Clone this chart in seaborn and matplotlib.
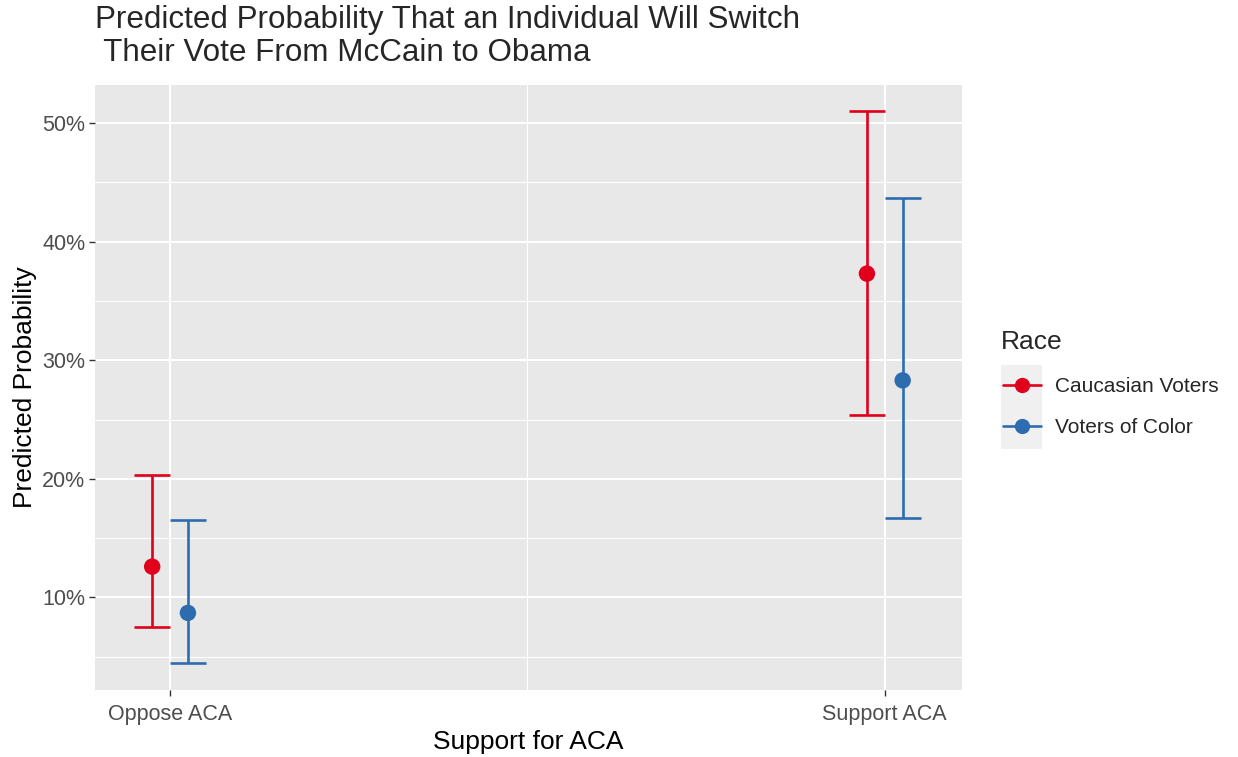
import matplotlib
matplotlib.use("Agg")
import matplotlib.pyplot as plt
from matplotlib.lines import Line2D
from matplotlib.patches import Rectangle
from matplotlib.ticker import FuncFormatter, MultipleLocator
import numpy as np
import pandas as pd
import seaborn as sns

# Predicted probabilities (percent) with confidence bounds
aca_levels = ["Oppose ACA", "Support ACA"]
race_groups = ["Caucasian Voters", "Voters of Color"]
caucasian_prob = [12.6, 37.3]
caucasian_low = [7.5, 25.4]
caucasian_high = [20.3, 51.0]
color_prob = [8.7, 28.3]
color_low = [4.5, 16.7]
color_high = [16.5, 43.7]

df = pd.DataFrame({
    "support": [0, 1, 0, 1],
    "race": [race_groups[0]] * 2 + [race_groups[1]] * 2,
    "prob": caucasian_prob + color_prob,
    "low": caucasian_low + color_low,
    "high": caucasian_high + color_high,
})

palette = {race_groups[0]: "#E0001B", race_groups[1]: "#2E6CB0"}
dodge = {race_groups[0]: -0.025, race_groups[1]: 0.025}
df["xpos"] = df["support"] + df["race"].map(dodge)

sns.set_theme(style="darkgrid", rc={
    "axes.facecolor": "#E8E8E8",
    "grid.color": "white",
    "axes.edgecolor": "#E8E8E8",
})
plt.rcParams["font.family"] = ["Liberation Sans", "DejaVu Sans"]

fig = plt.figure(figsize=(12.38, 7.57), dpi=100)
ax = fig.add_axes([95 / 1238, 1 - 690 / 757, (962 - 95) / 1238, (690 - 85) / 757])

for race in race_groups:
    sub = df[df["race"] == race]
    ax.errorbar(sub["xpos"], sub["prob"],
                yerr=[sub["prob"] - sub["low"], sub["high"] - sub["prob"]],
                fmt="none", ecolor=palette[race], elinewidth=1.9,
                capsize=13, capthick=1.9, zorder=3)

sns.scatterplot(data=df, x="xpos", y="prob", hue="race", palette=palette,
                s=140, edgecolor="none", legend=False, ax=ax, zorder=4)

ax.set_xlim(-0.105, 1.108)
ax.set_ylim(2.2, 53.2)
ax.set_xticks([0, 1])
ax.set_xticklabels(aca_levels)
ax.xaxis.set_minor_locator(MultipleLocator(0.5))
ax.yaxis.set_major_locator(MultipleLocator(10))
ax.yaxis.set_minor_locator(MultipleLocator(5))
ax.yaxis.set_major_formatter(FuncFormatter(lambda v, _: f"{v:.0f}%"))
ax.grid(which="major", color="white", linewidth=1.5)
ax.grid(which="minor", color="white", linewidth=0.8)
for side in ax.spines.values():
    side.set_visible(False)

ax.tick_params(axis="x", which="major", pad=6)
ax.tick_params(axis="y", which="major", pad=3)
ax.tick_params(axis="both", which="major", length=4, width=1.0, color="#333333",
               labelsize=15.5, labelcolor="#4D4D4D", bottom=True, left=True)
ax.tick_params(axis="both", which="minor", length=0)

ax.set_xlabel("Support for ACA", fontsize=19, color="black", labelpad=4)
ax.set_ylabel("Predicted Probability", fontsize=19, color="black", labelpad=4)

fig.text(95 / 1238, 1 - 5 / 757,
         "Predicted Probability That an Individual Will Switch\n Their Vote From McCain to Obama",
         fontsize=22.6, ha="left", va="top", linespacing=1.12)

# Legend
fig.text(1001 / 1238, 1 - 342 / 757, "Race", fontsize=19, ha="left", va="center")
fig.patches.append(Rectangle((1001 / 1238, 1 - 449 / 757), 41 / 1238, 84 / 757,
                             transform=fig.transFigure, facecolor="#F0F0F0",
                             edgecolor="none", zorder=0))
handles = [Line2D([0], [0], color=palette[r], linewidth=1.9, marker="o",
                  markersize=11, markeredgewidth=0) for r in race_groups]
fig.legend(handles, race_groups, loc="upper left",
           bbox_to_anchor=(1003 / 1238, 1 - 377 / 757), frameon=False,
           fontsize=15, handlelength=1.8, handletextpad=0.7, labelspacing=1.05,
           borderaxespad=0, borderpad=0)

fig.savefig("out.png", dpi=100, facecolor="white")
